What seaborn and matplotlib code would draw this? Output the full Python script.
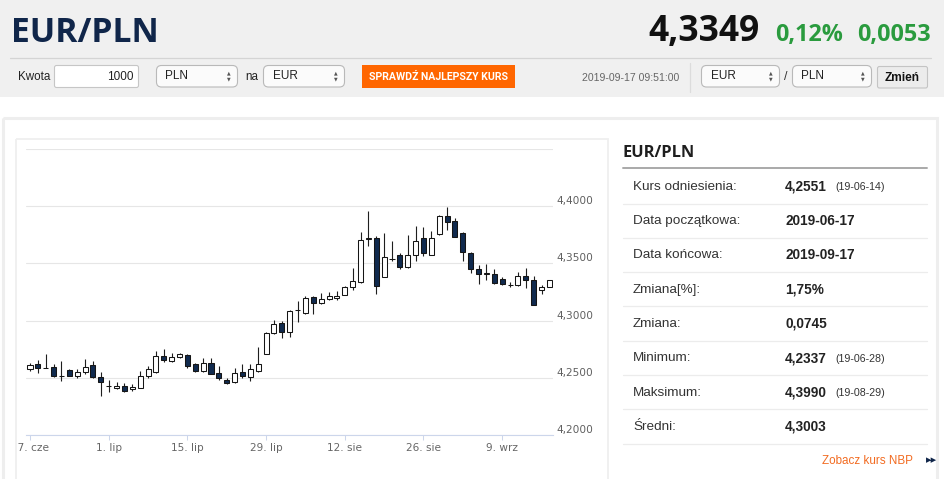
import numpy as np
import pandas as pd
import matplotlib
matplotlib.use("Agg")
import matplotlib.pyplot as plt
from matplotlib.patches import Rectangle, FancyBboxPatch
from matplotlib.transforms import Bbox
import seaborn as sns

# ---------------- data ----------------
opens = [4.2579, 4.2617, 4.2587, 4.2596, 4.2516, 4.2564, 4.2515, 4.2550, 4.2608, 4.2509,
         4.2428, 4.2407, 4.2427, 4.2398, 4.2413, 4.2515, 4.2550, 4.2689, 4.2646, 4.2681,
         4.2698, 4.2625, 4.2558, 4.2631, 4.2541, 4.2485, 4.2465, 4.2547, 4.2506, 4.2558,
         4.2710, 4.2888, 4.2975, 4.2899, 4.3089, 4.3067, 4.3204, 4.3155, 4.3192, 4.3198,
         4.3227, 4.3292, 4.3338, 4.3716, 4.3723, 4.3382, 4.3538, 4.3577, 4.3466, 4.3571,
         4.3723, 4.3577, 4.3758, 4.3918, 4.3875, 4.3767, 4.3592, 4.3455, 4.3411, 4.3411,
         4.3364, 4.3310, 4.3309, 4.3394, 4.3353, 4.3271, 4.3294]
highs = [4.2631, 4.2654, 4.2710, 4.2625, 4.2646, 4.2573, 4.2573, 4.2666, 4.2646, 4.2550,
         4.2477, 4.2465, 4.2456, 4.2442, 4.2558, 4.2602, 4.2733, 4.2753, 4.2719, 4.2719,
         4.2710, 4.2631, 4.2675, 4.2675, 4.2602, 4.2500, 4.2587, 4.2617, 4.2622, 4.2768,
         4.2899, 4.3001, 4.2995, 4.3097, 4.3169, 4.3213, 4.3213, 4.3242, 4.3248, 4.3262,
         4.3300, 4.3461, 4.3776, 4.3962, 4.3738, 4.3767, 4.3694, 4.3592, 4.3752, 4.3825,
         4.3816, 4.3781, 4.3921, 4.3990, 4.3898, 4.3776, 4.3598, 4.3490, 4.3499, 4.3452,
         4.3379, 4.3335, 4.3423, 4.3461, 4.3394, 4.3315, 4.3359]
lows = [4.2558, 4.2544, 4.2582, 4.2509, 4.2471, 4.2515, 4.2500, 4.2535, 4.2500, 4.2337,
        4.2378, 4.2398, 4.2378, 4.2383, 4.2407, 4.2500, 4.2544, 4.2637, 4.2637, 4.2669,
        4.2587, 4.2550, 4.2550, 4.2529, 4.2480, 4.2450, 4.2456, 4.2500, 4.2471, 4.2552,
        4.2704, 4.2879, 4.2844, 4.2855, 4.2985, 4.3061, 4.3061, 4.3149, 4.3184, 4.3184,
        4.3222, 4.3271, 4.3329, 4.3650, 4.3236, 4.3379, 4.3525, 4.3455, 4.3461, 4.3519,
        4.3569, 4.3571, 4.3746, 4.3796, 4.3727, 4.3519, 4.3417, 4.3324, 4.3353, 4.3324,
        4.3315, 4.3294, 4.3303, 4.3283, 4.3140, 4.3233, 4.3292]
closes = [4.2608, 4.2587, 4.2588, 4.2520, 4.2515, 4.2520, 4.2550, 4.2596, 4.2506, 4.2462,
          4.2427, 4.2427, 4.2383, 4.2418, 4.2520, 4.2573, 4.2689, 4.2654, 4.2684, 4.2704,
          4.2602, 4.2558, 4.2631, 4.2535, 4.2500, 4.2456, 4.2544, 4.2515, 4.2573, 4.2617,
          4.2893, 4.2966, 4.2899, 4.3083, 4.3091, 4.3198, 4.3155, 4.3192, 4.3213, 4.3219,
          4.3294, 4.3344, 4.3708, 4.3718, 4.3300, 4.3554, 4.3540, 4.3466, 4.3571, 4.3700,
          4.3592, 4.3723, 4.3913, 4.3863, 4.3729, 4.3601, 4.3452, 4.3411, 4.3412, 4.3329,
          4.3321, 4.3309, 4.3394, 4.3353, 4.3140, 4.3294, 4.3353]
dates = pd.bdate_range("2019-06-17", "2019-09-17")

tick_dates = ["2019-06-17", "2019-07-01", "2019-07-15", "2019-07-29",
              "2019-08-12", "2019-08-26", "2019-09-09"]
tick_labels = ["17. cze", "1. lip", "15. lip", "29. lip", "12. sie", "26. sie", "9. wrz"]
ytick_values = [4.20, 4.25, 4.30, 4.35, 4.40, 4.45]
ytick_labels = ["4,2000", "4,2500", "4,3000", "4,3500", "4,4000", ""]

stat_labels = ["Kurs odniesienia:", "Data początkowa:", "Data końcowa:", "Zmiana[%]:",
               "Zmiana:", "Minimum:", "Maksimum:", "Średni:"]
stat_values = ["4,2551", "2019-06-17", "2019-09-17", "1,75%", "0,0745",
               "4,2337", "4,3990", "4,3003"]
stat_notes = ["(19-06-14)", "", "", "", "", "(19-06-28)", "(19-08-29)", ""]

pair = "EUR/PLN"
rate = "4,3349"
change_pct = "0,12%"
change_abs = "0,0053"
timestamp = "2019-09-17 09:51:00"

# ---------------- style ----------------
sns.set_theme(style="white")
plt.rcParams['font.family'] = ['DejaVu Sans']

W, H = 945, 479
fig = plt.figure(figsize=(W / 100, H / 100), dpi=100)
fig.patch.set_facecolor("white")

bg = fig.add_axes([0, 0, 1, 1], zorder=0)
bg.set_xlim(0, W)
bg.set_ylim(H, 0)
bg.axis("off")

ARIAL = ["Liberation Sans", "DejaVu Sans"]
OPEN = ["Open Sans", "DejaVu Sans"]
NAVY = "#10264a"

# header band
bg.add_patch(Rectangle((0, 0), W, 97, color="#f0f0f0", lw=0))
bg.plot([10, 931], [57.5, 57.5], color="#d4d4d4", lw=0.9)

bg.text(11.5, 41.5, pair, fontsize=24.2, fontweight="bold", family=OPEN, color=NAVY,
        va="baseline")
bg.text(760, 40.5, rate, fontsize=25.5, fontweight="bold", family=OPEN, color="#111111",
        va="baseline", ha="right")
bg.text(775, 40.5, change_pct, fontsize=16.8, fontweight="bold", family=OPEN, color="#2a9b3e",
        va="baseline")
bg.text(931, 40.5, change_abs, fontsize=16.8, fontweight="bold", family=OPEN, color="#2a9b3e",
        va="baseline", ha="right")

# form row
def select_box(x0, x1, label):
    bg.add_patch(FancyBboxPatch((x0, 65.5), x1 - x0, 21.5,
                                boxstyle="round,pad=0,rounding_size=5",
                                fc="#fbfbfb", ec="#b9b9b9", lw=0.8))
    bg.text(x0 + 9, 76.3, label, fontsize=8.5, family=ARIAL, color="#222222", va="center")
    bg.text(x1 - 9, 73.3, "▲", fontsize=3.4, color="#555555", ha="center", va="center")
    bg.text(x1 - 9, 79.3, "▼", fontsize=3.4, color="#555555", ha="center", va="center")

bg.text(18, 76.5, "Kwota", fontsize=8.4, family=ARIAL, color="#222222", va="center")
bg.add_patch(FancyBboxPatch((54.5, 65.5), 84, 22, boxstyle="round,pad=0,rounding_size=2",
                            fc="white", ec="#c6c6c6", lw=0.8))
bg.text(134, 76.8, "1000", fontsize=8.5, family=ARIAL, color="#222222", va="center", ha="right")
select_box(156.5, 237.5, "PLN")
bg.text(245, 76.5, "na", fontsize=8.4, family=ARIAL, color="#222222", va="center")
select_box(263.5, 344.5, "EUR")
bg.add_patch(Rectangle((362, 65), 152.5, 23, color="#ff6600", lw=0))
bg.text(438.5, 76.8, "SPRAWDŹ NAJLEPSZY KURS", fontsize=7.6, fontweight="bold",
        family=["Roboto", "DejaVu Sans"], color="white", ha="center", va="center")

bg.text(679.5, 77.5, timestamp, fontsize=7.6, family=ARIAL, color="#666666", ha="right",
        va="center")
bg.plot([690, 690], [63, 92], color="#dcdcdc", lw=0.9)
select_box(701.5, 779.5, "EUR")
bg.text(786, 77, "/", fontsize=9, family=ARIAL, color="#333333", ha="center", va="center")
select_box(792.5, 871.5, "PLN")
bg.add_patch(FancyBboxPatch((877.5, 66.5), 50, 21.5, boxstyle="round,pad=0,rounding_size=2",
                            fc="#ececec", ec="#c4c4c4", lw=0.8))
bg.text(902.5, 77.5, "Zmień", fontsize=8.6, fontweight="bold", family=ARIAL, color="#111111",
        ha="center", va="center")

# container and chart box
bg.add_patch(Rectangle((2.5, 118.2), 934.5, 420, fill=False, ec="#eeeeee", lw=2.2))
bg.add_patch(Rectangle((15.5, 138.8), 592, 420, fill=False, ec="#efefef", lw=1.3))

# right stats panel
bg.text(623, 157, pair, fontsize=11.8, fontweight="bold", family=OPEN, color="#1e1e1e",
        va="baseline")
bg.plot([623, 927], [168, 168], color="#a9a9a9", lw=1.4)
for k, (lab, val, note) in enumerate(zip(stat_labels, stat_values, stat_notes)):
    yc = 186.8 + 34.3 * k
    bg.text(633, yc, lab, fontsize=9.7, family=ARIAL, color="#333333", va="center")
    bg.text(785, yc, val, fontsize=9.8, fontweight="bold", family=ARIAL, color="#222222",
            va="center")
    if note:
        bg.text(835, yc + 0.5, note, fontsize=7.7, family=ARIAL, color="#333333", va="center")
    bg.plot([623, 927], [203.5 + 34.3 * k] * 2, color="#ececec", lw=0.9)

bg.text(822.5, 460.5, "Zobacz kurs NBP", fontsize=8.4, family=ARIAL, color="#f26b21",
        va="center")
bg.text(925.5, 460.5, "▸▸", fontsize=8, color=NAVY, va="center")

# ---------------- candlestick chart ----------------
ax = fig.add_axes([26 / W, 1 - 435 / H, 527 / W, 286 / H], zorder=1)
ax.patch.set_alpha(0)

df = pd.DataFrame({"date": dates, "open": opens, "high": highs, "low": lows, "close": closes})
df["idx"] = np.arange(len(df))
df["up"] = df["close"] >= df["open"]
df["bottom"] = df[["open", "close"]].min(axis=1)
df["height"] = (df["close"] - df["open"]).abs().clip(lower=0.00012)

ax.vlines(df["idx"], df["low"], df["high"], color="#1e1e1e", lw=0.8, zorder=2)
ax.bar(df["idx"], df["height"], bottom=df["bottom"], width=0.64,
       color=np.where(df["up"], "white", "#102a4e"), edgecolor="#151515", linewidth=0.75,
       zorder=3)

ax.set_xlim(-0.508, 66.46)
ax.set_ylim(4.20, 4.45)

for s in ["top", "left", "right"]:
    ax.spines[s].set_visible(False)
ax.spines["bottom"].set_color("#ccd6eb")
ax.spines["bottom"].set_linewidth(0.8)

tick_pos = [int(df.index[df["date"] == pd.Timestamp(d)][0]) for d in tick_dates]
ax.set_xticks(tick_pos, tick_labels)
ax.tick_params(axis="x", bottom=True, length=3.6, width=0.75, color="#ccd6eb",
               labelcolor="#666666", labelsize=7.6, pad=2.5, direction="out")

ax.yaxis.tick_right()
ax.set_yticks(ytick_values, ytick_labels)
ax.tick_params(axis="y", right=False, left=False, length=0, pad=2.4, labelsize=7.6,
               labelcolor="#606060")
for t in ax.get_yticklabels():
    t.set_verticalalignment("bottom")
ax.yaxis.grid(True, color="#e6e6e6", lw=0.8)
ax.xaxis.grid(False)
ax.set_axisbelow(True)

clip = Bbox.from_extents(16.5, 0, W, H)
for t in ax.get_xticklabels():
    t.set_clip_on(True)
    t.set_clip_box(clip)

fig.savefig("out.png", dpi=100, facecolor="white")
